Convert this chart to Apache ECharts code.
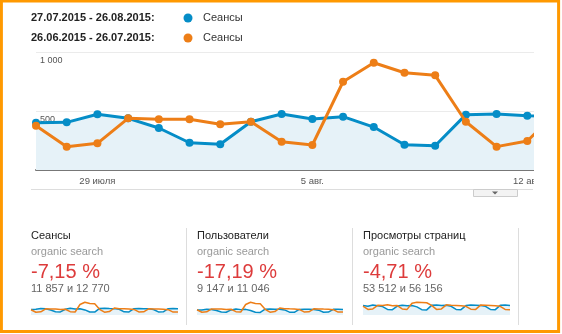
<!DOCTYPE html>
<html><head><meta charset="utf-8">
<script src="https://cdn.jsdelivr.net/npm/echarts@6/dist/echarts.min.js"></script>
<style>html,body{margin:0;padding:0;background:#fff}#c{width:562px;height:334px}</style>
</head><body><div id="c"></div>
<script>
// ---- data ----
const periodCurrent = '27.07.2015 - 26.08.2015:';
const periodPrevious = '26.06.2015 - 26.07.2015:';
const legendName = 'Сеансы';
const dayLabels = ['27 июля','28 июля','29 июля','30 июля','31 июля','1 авг.','2 авг.','3 авг.','4 авг.','5 авг.',
  '6 авг.','7 авг.','8 авг.','9 авг.','10 авг.','11 авг.','12 авг.','13 авг.','14 авг.','15 авг.',
  '16 авг.','17 авг.','18 авг.','19 авг.','20 авг.','21 авг.','22 авг.','23 авг.','24 авг.','25 авг.','26 авг.'];
const visibleDays = 18;
const yMax = 1000;
const yStep = 500;
const sessionsCurrent = [400,404,472,438,356,231,218,409,475,432,452,364,214,206,469,475,460,455,410,225,215,450,465,455,440,390,220,230,455,460,450];
const sessionsPrevious = [375,198,226,438,430,430,387,409,240,212,748,909,824,802,409,198,246,500,450,440,430,400,220,230,440,430,420,410,380,210,220];
const usersCurrent = [308,312,362,336,275,180,170,315,365,332,348,282,166,160,360,365,354,350,316,175,168,346,358,350,338,300,171,178,350,354,346];
const usersPrevious = [324,172,196,378,372,372,335,354,208,184,647,786,713,694,354,172,213,432,389,380,372,346,190,199,380,372,363,355,329,182,190];
const pageviewsCurrent = [1850,1700,1950,1800,1650,1100,1050,1750,1900,1800,1850,1600,1050,1000,1900,1950,1850,1900,1700,1100,1050,1850,1950,1900,1850,1700,1100,1050,1900,1950,1850];
const pageviewsPrevious = [1750,1100,1200,1900,1850,2000,1800,1850,1200,1100,2300,2500,2450,2400,1900,1100,1200,2000,1900,1850,1800,1700,1150,1100,1950,1900,1850,1800,1700,1100,1050];
const metricNames = ['Сеансы','Пользователи','Просмотры страниц'];
const segmentName = 'organic search';
const metricChanges = ['-7,15 %','-17,19 %','-4,71 %'];
const metricTotals = ['11 857 и 12 770','9 147 и 11 046','53 512 и 56 156'];

// ---- styles ----
const BLUE = '#058dc7', ORANGE = '#ed7e17', FONT = '"Liberation Sans", Arial, sans-serif';
const fmt = v => String(v).replace(/\B(?=(\d{3})+(?!\d))/g, ' ');
const panelX = [31, 197, 363];
const sparkW = [147, 146, 147];
const sparkSets = [[sessionsCurrent, sessionsPrevious],[usersCurrent, usersPrevious],[pageviewsCurrent, pageviewsPrevious]];

const grid = [{left:36, top:52, height:118, right:4}];
const xAxis = [{
  type:'category', gridIndex:0, data: dayLabels.slice(0, visibleDays), boundaryGap:false,
  axisLine:{lineStyle:{color:'#777', width:2}}, axisTick:{show:false},
  axisLabel:{interval:(i)=> i % 7 === 2, color:'#555', fontSize:9.5, fontFamily:FONT, margin:6}
}];
const yAxis = [{
  type:'value', gridIndex:0, min:0, max:yMax, interval:yStep,
  axisLine:{show:false}, axisTick:{show:false},
  splitLine:{lineStyle:{color:'#ebebeb'}},
  axisLabel:{inside:true, showMinLabel:false, formatter:fmt, color:'#555', fontSize:9, fontFamily:FONT,
    verticalAlign:'top', margin:4, padding:[4,0,0,0]}
}];
const series = [
  {type:'line', xAxisIndex:0, yAxisIndex:0, data:sessionsCurrent.slice(0, visibleDays), color:BLUE,
   lineStyle:{width:3, color:BLUE}, symbol:'circle', symbolSize:8, itemStyle:{color:BLUE},
   areaStyle:{color:'#e6f2f8', opacity:1}, z:2},
  {type:'line', xAxisIndex:0, yAxisIndex:0, data:sessionsPrevious.slice(0, visibleDays), color:ORANGE,
   lineStyle:{width:3, color:ORANGE}, symbol:'circle', symbolSize:8, itemStyle:{color:ORANGE}, z:3}
];
sparkSets.forEach((pair, k) => {
  const gi = k + 1;
  grid.push({left:panelX[k], top:301, width:sparkW[k], height:14});
  xAxis.push({type:'category', gridIndex:gi, data:dayLabels, boundaryGap:false, show:false});
  yAxis.push({type:'value', gridIndex:gi, min:0, max:(e)=>e.max*1.1, show:false, splitLine:{show:false}});
  series.push({type:'line', xAxisIndex:gi, yAxisIndex:gi, data:pair[0], showSymbol:false, symbol:'none',
    lineStyle:{width:1.5, color:BLUE}, areaStyle:{color:'#e6f2f8', opacity:1}, z:2});
  series.push({type:'line', xAxisIndex:gi, yAxisIndex:gi, data:pair[1], showSymbol:false, symbol:'none',
    lineStyle:{width:1.5, color:ORANGE}, z:3});
});

const g = [];
const txt = (x, y, text, font, fill) => g.push({type:'text', x, y, z:50,
  style:{text, font, fill, verticalAlign:'middle', align:'left'}});
// header
txt(31, 18, periodCurrent, 'bold 11px ' + FONT, '#222');
txt(31, 38, periodPrevious, 'bold 11px ' + FONT, '#222');
g.push({type:'circle', shape:{cx:188, cy:18, r:4.5}, style:{fill:BLUE}, z:50});
g.push({type:'circle', shape:{cx:188, cy:38, r:4.5}, style:{fill:ORANGE}, z:50});
txt(203, 18, legendName, '11px ' + FONT, '#333');
txt(203, 38, legendName, '11px ' + FONT, '#333');
// crop of main chart on the right
g.push({type:'rect', shape:{x:534, y:44, width:28, height:160}, style:{fill:'#fff'}, z:100});
// bottom line and drop tab
g.push({type:'line', shape:{x1:31, y1:189.5, x2:533, y2:189.5}, style:{stroke:'#ddd', lineWidth:1}, z:50});
g.push({type:'rect', shape:{x:473.5, y:189.5, width:44, height:7}, style:{fill:'#f3f3f3', stroke:'#ccc', lineWidth:1}, z:51});
g.push({type:'polygon', shape:{points:[[492,191.5],[498,191.5],[495,194.5]]}, style:{fill:'#666'}, z:52});
// panels
[186.5, 352.5, 518.5].forEach(x => g.push({type:'line', shape:{x1:x, y1:228, x2:x, y2:325}, style:{stroke:'#ddd', lineWidth:1}, z:50}));
metricNames.forEach((name, k) => {
  const x = panelX[k];
  txt(x, 236, name, '11px ' + FONT, '#222');
  txt(x, 252, segmentName, '11px ' + FONT, '#999');
  txt(x, 272, metricChanges[k], '20px ' + FONT, '#dd3b3b');
  txt(x, 289, metricTotals[k], '11px ' + FONT, '#666');
});
// orange border
g.push({type:'rect', shape:{x:1.4, y:1, width:557.2, height:330.5}, style:{fill:'none', stroke:'#f90', lineWidth:3}, z:200});

const chart = echarts.init(document.getElementById('c'), null, {renderer:'canvas'});
chart.setOption({
  animation:false, backgroundColor:'#fff',
  grid, xAxis, yAxis, series, graphic:{elements:g}
});
</script></body></html>
